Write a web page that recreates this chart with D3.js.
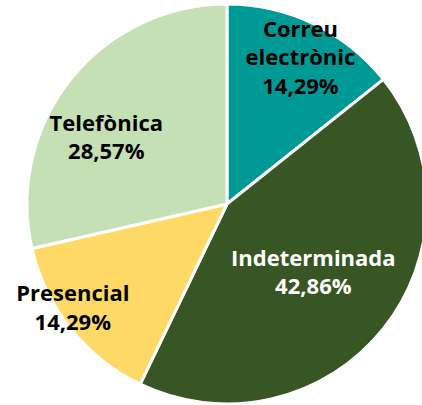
<!DOCTYPE html>
<html>
<head>
<meta charset="utf-8">
<script src="https://cdn.jsdelivr.net/npm/d3@7"></script>
<style>
  body { margin: 0; background: #fff; }
  svg { display: block; }
  text { font-family: "Open Sans", sans-serif; font-weight: 700; }
</style>
</head>
<body>
<div id="chart"></div>
<script>
const categories = ["Correu electrònic", "Indeterminada", "Presencial", "Telefònica"];
const values = [14.29, 42.86, 14.29, 28.57];
const labelLines = [["Correu", "electrònic"], ["Indeterminada"], ["Presencial"], ["Telefònica"]];
const colors = ["#009a96", "#375623", "#ffd966", "#c5e0b4"];
const textColors = ["#000", "#fff", "#000", "#000"];
// where each label sits, as a fraction of the radius (Excel best fit)
const labelPos = [[0.82, 26.6], [0.55, 128.3], [0.93, 236], [0.69, 299]];

const width = 422, height = 405;
const cx = 227, cy = 204, radius = 200;

const svg = d3.select("#chart")
  .append("svg")
  .attr("width", width)
  .attr("height", height);

const g = svg.append("g")
  .attr("transform", `translate(${cx},${cy})`);

const data = categories.map((c, i) => ({name: c, value: values[i], i: i}));

const pie = d3.pie()
  .sort(null)
  .value(d => d.value);

const arc = d3.arc()
  .innerRadius(0)
  .outerRadius(radius);

g.selectAll("path")
  .data(pie(data))
  .join("path")
  .attr("d", arc)
  .attr("fill", d => colors[d.data.i])
  .attr("stroke", "#fff")
  .attr("stroke-width", 3)
  .attr("stroke-linejoin", "round");

const fmt = v => v.toFixed(2).replace(".", ",") + "%";

const labels = g.selectAll("g.label")
  .data(pie(data))
  .join("g")
  .attr("class", "label")
  .attr("transform", d => {
    const p = labelPos[d.data.i];
    const a = p[1] * Math.PI / 180;
    const r = p[0] * radius;
    return `translate(${r * Math.sin(a)},${-r * Math.cos(a)})`;
  });

labels.each(function (d) {
  const lines = labelLines[d.data.i].concat([fmt(d.data.value)]);
  const lh = 28.5;
  const t = d3.select(this).append("text")
    .attr("text-anchor", "middle")
    .attr("fill", textColors[d.data.i])
    .style("font-size", "22px");
  lines.forEach((l, k) => {
    t.append("tspan")
      .attr("x", 0)
      .attr("y", (k - (lines.length - 1) / 2) * lh)
      .attr("dy", "0.35em")
      .text(l);
  });
});
</script>
</body>
</html>
